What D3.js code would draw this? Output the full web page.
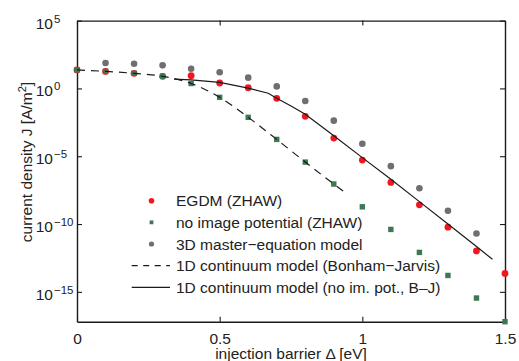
<!DOCTYPE html>
<html><head><meta charset="utf-8">
<script src="https://cdn.jsdelivr.net/npm/d3@7"></script>
<style>
body{margin:0;background:#fff;}
svg text{font-family:"Liberation Sans",Arial,Helvetica,sans-serif;fill:#222;}
</style></head><body>
<svg id="c" width="519" height="361"></svg>
<script>
// ---- data ----
const deltaX    = [0,0.1,0.2,0.3,0.4,0.5,0.6,0.7,0.8,0.9,1.0,1.1,1.2,1.3,1.4,1.5];
const egdm      = [2.3e1,1.8e1,1.3e1,7.8,8.7,2.5,1.12,1.86e-1,8.7e-3,2.19e-4,5.2e-6,1.17e-7,2.6e-9,5.9e-11,1.05e-12,2.3e-14];
const noImage   = [2.3e1,1.8e1,1.3e1,7.8,2.3,2.2e-1,7.4e-3,1.74e-4,3.7e-6,8.9e-8,1.86e-9,4.0e-11,8.1e-13,1.62e-14,3.5e-16,6.3e-18];
const masterX   = [0.1,0.2,0.3,0.4,0.5,0.6,0.7,0.8,0.9,1.0,1.1,1.2,1.3,1.4];
const master    = [74,66,50,28,15.5,6.2,1.41,1.17e-1,4.2e-3,8.3e-5,1.86e-6,4.3e-8,9.5e-10,2.0e-11];
const bjX       = [0,0.1,0.2,0.3,0.4,0.5,0.6,0.7,0.8,0.9,0.935];
const bj        = [2.3e1,1.8e1,1.3e1,7.8,2.3,2.2e-1,7.4e-3,1.74e-4,3.7e-6,8.9e-8,2.5e-8];
const noImPotX  = [0.34,0.4,0.5,0.6,0.67,0.7,0.75,0.8,0.9,1.0,1.1,1.2,1.3,1.4,1.456];
const noImPot   = [4.9,4.2,2.8,1.05,0.44,0.186,0.05,0.0123,3.2e-4,7.9e-6,2.0e-7,4.5e-9,1.0e-10,2.2e-12,2.5e-13];
const xTicks    = [0,0.5,1,1.5];
const xTickLabels = ["0","0.5","1","1.5"];
const yTicks    = [1e5,1e0,1e-5,1e-10,1e-15];
const yTickExp  = ["5","0","\u22125","\u221210","\u221215"];
const yDomain   = [6.3e-18,1e5];
const legendLabels = ["EGDM (ZHAW)","no image potential (ZHAW)","3D master\u2212equation model",
  "1D continuum model (Bonham\u2212Jarvis)","1D continuum model (no im. pot., B\u2013J)"];

// ---- styles ----
const RED="#f2161f", GREEN="#3d7753", GREY="#6e6e73", INK="#1a1a1a";
const L=77, R=505, T=20.6, B=321.7;

const svg=d3.select("#c");
const x=d3.scaleLinear().domain([0,1.5]).range([L,R]);
const y=d3.scaleLog().domain(yDomain).range([B,T]);

// axes
function styleAxis(g){
  g.selectAll("path.domain").attr("stroke",INK).attr("stroke-width",1.4);
  g.selectAll(".tick line").attr("stroke",INK).attr("stroke-width",1.1);
  g.selectAll("text").attr("font-size","15.5px").attr("fill","#222")
   .attr("font-family","'Liberation Sans',Arial,Helvetica,sans-serif");
}
svg.append("g").attr("transform",`translate(0,${B})`)
  .call(d3.axisBottom(x).tickValues(xTicks).tickFormat((d,i)=>xTickLabels[i])
    .tickSizeInner(-5).tickSizeOuter(0).tickPadding(11))
  .call(styleAxis);
svg.append("g").attr("transform",`translate(0,${T})`)
  .call(d3.axisTop(x).tickValues(xTicks).tickFormat("").tickSizeInner(-5).tickSizeOuter(0))
  .call(styleAxis);
svg.append("g").attr("transform",`translate(${R},0)`)
  .call(d3.axisRight(y).tickValues(yTicks).tickFormat("").tickSizeInner(-5).tickSizeOuter(0))
  .call(styleAxis);
const yAx=svg.append("g").attr("transform",`translate(${L},0)`)
  .call(d3.axisLeft(y).tickValues(yTicks).tickFormat(()=> "10").tickSizeInner(-5).tickSizeOuter(0).tickPadding(24))
  .call(styleAxis);
yAx.selectAll(".tick text").attr("dy","7.5");
yAx.selectAll(".tick").each(function(d,i){
  d3.select(this).append("text").attr("x",-23).attr("y",1.5)
    .attr("text-anchor","start").attr("font-size","11.5px").attr("fill","#222")
    .attr("font-family","'Liberation Sans',Arial,Helvetica,sans-serif")
    .text(yTickExp[i]);
});

// axis titles
svg.append("text").attr("x",(L+R)/2).attr("y",359).attr("text-anchor","middle")
  .attr("font-size","15.5px").text("injection barrier \u0394 [eV]");
const yl=svg.append("text").attr("transform","translate(31.5,162) rotate(-90)")
  .attr("text-anchor","middle").attr("font-size","15.5px");
yl.append("tspan").text("current density J [A/m");
yl.append("tspan").attr("font-size","11px").attr("dy","-6").text("2");
yl.append("tspan").attr("dy","6").text("]");

// markers
svg.append("g").selectAll("circle").data(deltaX).join("circle")
  .attr("cx",d=>x(d)).attr("cy",(d,i)=>y(egdm[i])).attr("r",3.4).attr("fill",RED);
const sq=5.4;
svg.append("g").selectAll("rect").data(deltaX).join("rect")
  .attr("x",d=>x(d)-sq/2).attr("y",(d,i)=>y(noImage[i])-sq/2).attr("width",sq).attr("height",sq).attr("fill",GREEN);
svg.append("g").selectAll("circle").data(masterX).join("circle")
  .attr("cx",d=>x(d)).attr("cy",(d,i)=>y(master[i])).attr("r",3.3).attr("fill",GREY);

// lines
const lineBJ=d3.line().x(d=>x(d)).y((d,i)=>y(bj[i])).curve(d3.curveMonotoneX);
svg.append("path").datum(bjX).attr("d",lineBJ).attr("fill","none").attr("stroke",INK)
  .attr("stroke-width",1.2).attr("stroke-dasharray","8,6");
const lineNI=d3.line().x(d=>x(d)).y((d,i)=>y(noImPot[i]));
svg.append("path").datum(noImPotX).attr("d",lineNI).attr("fill","none").attr("stroke",INK)
  .attr("stroke-width",1.2);

// legend
const lg=svg.append("g");
const rowY=i=>200.7+i*21.65;
legendLabels.forEach((t,i)=>{
  const yy=rowY(i);
  if(i===0) lg.append("circle").attr("cx",151.5).attr("cy",yy).attr("r",2.8).attr("fill",RED);
  if(i===1) lg.append("rect").attr("x",151.5-1.9).attr("y",yy-1.9).attr("width",3.8).attr("height",3.8).attr("fill",GREEN);
  if(i===2) lg.append("circle").attr("cx",151.5).attr("cy",yy).attr("r",2.6).attr("fill",GREY);
  if(i===3) lg.append("line").attr("x1",131.7).attr("x2",170).attr("y1",yy).attr("y2",yy)
     .attr("stroke",INK).attr("stroke-width",1.2).attr("stroke-dasharray","6,5.5");
  if(i===4) lg.append("line").attr("x1",131.7).attr("x2",170).attr("y1",yy).attr("y2",yy)
     .attr("stroke",INK).attr("stroke-width",1.2);
  lg.append("text").attr("x",176).attr("y",yy+5.6).attr("font-size","15.5px").text(t);
});
</script>
</body></html>
